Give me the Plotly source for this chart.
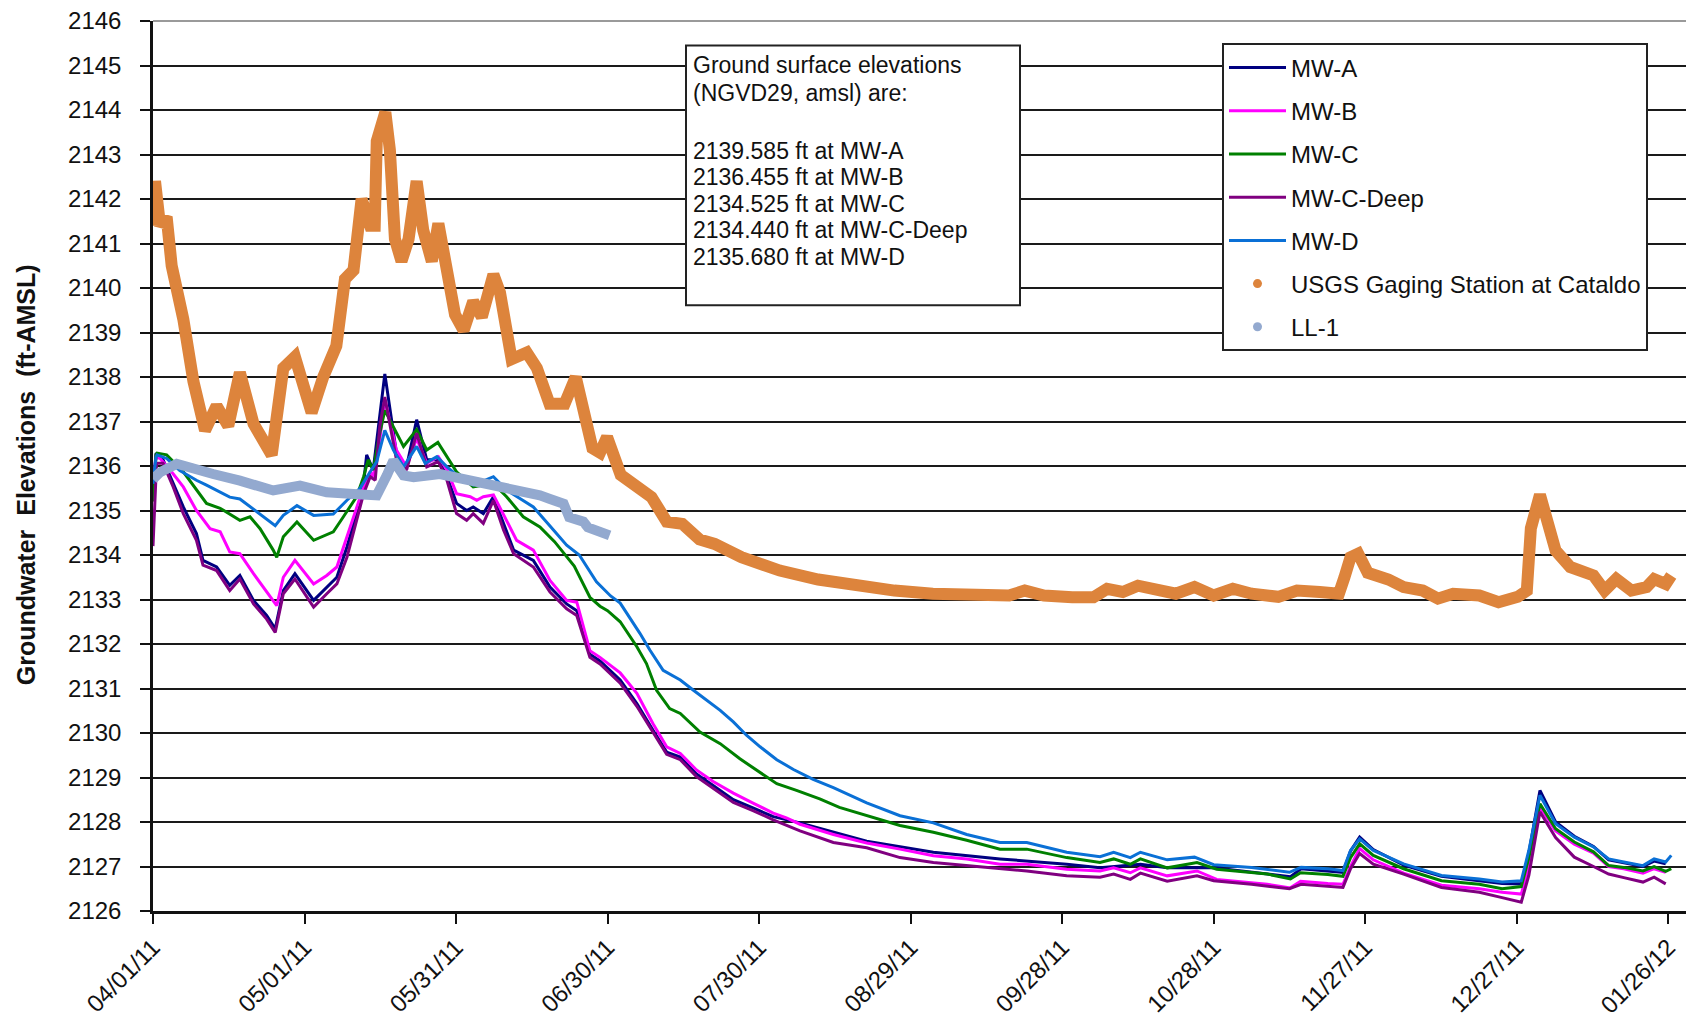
import pandas as pd
import plotly.graph_objects as go

START = "2011-04-01"

# ---------------- data (day offset from 04/01/11, elevation ft-AMSL) ----------------
mwa_days = [0, 0.6, 2.0, 3.4, 6.0, 8.6, 9.9, 12.6, 15.2, 17.2, 19.9, 22.5, 24.2, 25.8, 28.1, 31.8, 34.4, 36.4,
            38.4, 40.3, 41.7, 42.3, 43.6, 45.9, 48.2, 50.2, 52.2, 54.2, 56.5, 58.2, 60.1, 62.1, 63.4, 65.4, 67.4,
            69.4, 71.4, 75.3, 78.6, 81.9, 83.9, 86.5, 88.5, 92.5, 95.8, 99.0, 101.7, 104.4, 107.6, 110.9, 114.9,
            118.9, 122.8, 128.1, 141.3, 154.5, 167.7, 180.9, 187.5, 195.5, 200.8, 210.0, 220.6, 225.2, 227.3,
            232.6, 235.6, 237.1, 238.9, 241.6, 247.6, 255.1, 262.6, 267.1, 270.9, 272.4, 274.6, 277.7, 281.4,
            285.2, 288.2, 291.2, 295.0, 297.2, 299.5]
mwa_vals = [2135.5, 2136.29, 2136.14, 2135.76, 2135.08, 2134.48, 2133.88, 2133.73, 2133.32, 2133.54, 2132.98,
            2132.64, 2132.34, 2133.2, 2133.58, 2132.98, 2133.28, 2133.5, 2134.18, 2134.93, 2135.61, 2136.25,
            2135.91, 2138.07, 2136.29, 2135.98, 2137.04, 2136.14, 2136.14, 2135.76, 2135.16, 2135.0, 2135.08,
            2134.93, 2135.31, 2134.71, 2134.11, 2133.88, 2133.28, 2132.9, 2132.75, 2131.77, 2131.62, 2131.19,
            2130.66, 2130.06, 2129.57, 2129.46, 2129.08, 2128.82, 2128.5, 2128.31, 2128.12, 2127.98, 2127.57,
            2127.32, 2127.17, 2127.05, 2126.97, 2127.05, 2126.97, 2126.97, 2126.83, 2126.77, 2126.95, 2126.9,
            2126.87, 2127.35, 2127.66, 2127.38, 2127.03, 2126.78, 2126.68, 2126.62, 2126.61, 2127.3, 2128.71,
            2128.0, 2127.68, 2127.45, 2127.15, 2127.08, 2127.0, 2127.12, 2127.06]

mwb_days = [0, 0.6, 1.4, 3.4, 6.0, 8.6, 11.3, 13.3, 15.2, 17.2, 19.9, 22.5, 24.5, 25.8, 28.1, 31.8, 34.4, 36.4,
            38.4, 40.3, 41.7, 43.0, 43.6, 44.9, 45.9, 48.2, 50.2, 52.2, 54.2, 56.5, 58.2, 60.1, 62.8, 64.1, 65.4,
            67.4, 70.0, 72.0, 75.3, 78.6, 81.9, 83.9, 86.5, 88.5, 92.5, 95.8, 99.0, 101.7, 104.4, 107.6, 110.9,
            114.9, 118.9, 122.8, 125.4, 128.1, 134.7, 141.3, 147.9, 154.5, 161.1, 167.7, 173.0, 180.9, 187.5,
            190.2, 193.5, 195.5, 200.8, 206.7, 210.6, 220.6, 225.2, 227.2, 232.6, 235.6, 237.1, 238.9, 241.6,
            247.6, 255.1, 262.6, 267.1, 270.9, 272.4, 274.6, 277.7, 281.4, 285.2, 288.2, 291.2, 295.0, 297.2, 299.5]
mwb_vals = [2135.6, 2136.2, 2136.17, 2135.91, 2135.53, 2135.0, 2134.59, 2134.52, 2134.07, 2134.03, 2133.58,
            2133.17, 2132.86, 2133.5, 2133.88, 2133.35, 2133.54, 2133.73, 2134.41, 2135.08, 2135.53, 2135.87,
            2135.76, 2136.59, 2137.5, 2136.36, 2135.98, 2136.62, 2136.06, 2136.21, 2135.91, 2135.38, 2135.31,
            2135.23, 2135.31, 2135.35, 2134.78, 2134.33, 2134.11, 2133.43, 2132.98, 2132.94, 2131.85, 2131.7,
            2131.35, 2130.89, 2130.21, 2129.69, 2129.54, 2129.17, 2128.91, 2128.65, 2128.42, 2128.2, 2128.09,
            2127.95, 2127.72, 2127.53, 2127.39, 2127.24, 2127.17, 2127.05, 2127.05, 2126.94, 2126.9, 2126.97,
            2126.86, 2126.97, 2126.79, 2126.9, 2126.71, 2126.6, 2126.52, 2126.67, 2126.62, 2126.6, 2127.0,
            2127.4, 2127.15, 2126.85, 2126.58, 2126.5, 2126.42, 2126.38, 2127.0, 2128.34, 2127.8, 2127.5,
            2127.3, 2127.0, 2126.95, 2126.85, 2126.95, 2126.87]

mwc_days = [0, 0.6, 0.8, 2.7, 6.0, 10.6, 13.3, 17.2, 19.2, 21.2, 23.8, 24.5, 25.8, 28.5, 31.8, 35.7, 37.7, 40.3,
            41.7, 42.6, 43.6, 44.9, 45.9, 47.6, 49.6, 52.2, 54.2, 56.4, 58.2, 60.1, 63.4, 67.4, 70.0, 73.3, 76.6,
            79.5, 83.4, 86.5, 88.5, 90.0, 92.5, 95.8, 97.7, 99.7, 102.3, 104.4, 108.3, 112.3, 116.2, 120.2, 123.5,
            127.4, 132.0, 135.9, 141.3, 147.9, 154.5, 161.1, 167.7, 173.0, 180.9, 187.5, 190.2, 193.5, 195.5,
            200.8, 206.7, 210.6, 220.6, 225.2, 227.2, 232.6, 235.6, 237.1, 238.9, 241.6, 247.6, 255.1, 262.6,
            267.1, 270.9, 272.4, 274.6, 277.7, 281.4, 285.2, 288.2, 291.2, 295.0, 297.2, 299.5, 300.6]
mwc_vals = [2135.2, 2136.25, 2136.29, 2136.25, 2135.87, 2135.16, 2135.05, 2134.78, 2134.86, 2134.59, 2134.11,
            2133.95, 2134.41, 2134.74, 2134.33, 2134.52, 2134.86, 2135.31, 2135.76, 2136.14, 2135.91, 2136.74,
            2137.25, 2136.89, 2136.44, 2136.82, 2136.36, 2136.53, 2136.21, 2135.87, 2135.53, 2135.61, 2135.31,
            2134.86, 2134.63, 2134.3, 2133.75, 2133.05, 2132.85, 2132.75, 2132.5, 2131.94, 2131.56, 2130.96,
            2130.55, 2130.44, 2130.02, 2129.76, 2129.42, 2129.12, 2128.86, 2128.71, 2128.52, 2128.33, 2128.14,
            2127.92, 2127.77, 2127.59, 2127.39, 2127.39, 2127.2, 2127.09, 2127.17, 2127.05, 2127.17, 2126.97,
            2127.09, 2126.94, 2126.83, 2126.72, 2126.86, 2126.82, 2126.78, 2127.2, 2127.51, 2127.25, 2126.95,
            2126.68, 2126.6, 2126.5, 2126.55, 2127.2, 2128.41, 2127.85, 2127.55, 2127.33, 2127.02, 2126.98,
            2126.9, 2127.0, 2126.89, 2126.95]

mwcd_days = [0, 0.7, 2.0, 4.0, 6.0, 8.6, 9.9, 12.6, 15.2, 17.2, 19.9, 22.5, 24.2, 25.8, 28.1, 31.8, 34.4, 36.4,
             38.4, 40.3, 41.7, 43.0, 44.0, 44.9, 45.9, 48.2, 50.2, 52.2, 54.2, 56.5, 58.2, 60.1, 62.1, 63.4, 65.4,
             67.4, 69.4, 71.4, 75.3, 78.6, 81.9, 83.9, 86.5, 88.5, 92.5, 95.8, 99.0, 101.7, 104.4, 107.6, 110.9,
             114.9, 118.9, 122.8, 128.1, 134.7, 141.3, 147.9, 154.5, 161.1, 167.7, 173.0, 180.9, 187.5, 190.2,
             193.5, 195.5, 200.8, 206.7, 210.0, 217.5, 225.0, 227.3, 232.6, 235.6, 237.1, 238.9, 241.6, 247.6,
             255.1, 262.6, 267.1, 270.9, 272.4, 274.6, 277.7, 281.4, 285.2, 288.2, 291.2, 295.0, 297.2, 299.5]
mwcd_vals = [2134.2, 2136.06, 2136.06, 2135.53, 2134.93, 2134.33, 2133.77, 2133.65, 2133.2, 2133.46, 2132.9,
             2132.56, 2132.26, 2133.13, 2133.46, 2132.83, 2133.13, 2133.35, 2133.95, 2134.78, 2135.38, 2135.76,
             2135.68, 2136.89, 2137.55, 2136.14, 2135.91, 2136.74, 2135.98, 2136.1, 2135.68, 2134.93, 2134.78,
             2134.93, 2134.71, 2135.23, 2134.56, 2134.03, 2133.73, 2133.17, 2132.79, 2132.64, 2131.7, 2131.55,
             2131.12, 2130.6, 2130.0, 2129.52, 2129.4, 2129.02, 2128.76, 2128.44, 2128.25, 2128.05, 2127.8,
             2127.54, 2127.42, 2127.2, 2127.09, 2127.02, 2126.94, 2126.9, 2126.79, 2126.76, 2126.83, 2126.71,
             2126.85, 2126.67, 2126.79, 2126.68, 2126.6, 2126.5, 2126.6, 2126.55, 2126.53, 2126.95, 2127.29,
             2127.05, 2126.83, 2126.53, 2126.42, 2126.3, 2126.2, 2126.8, 2128.23, 2127.65, 2127.21, 2127.0,
             2126.83, 2126.75, 2126.65, 2126.76, 2126.61]

mwd_days = [0, 0.6, 0.8, 2.7, 5.3, 8.6, 10.6, 15.2, 17.2, 21.2, 24.2, 25.8, 28.5, 31.8, 35.7, 38.4, 41.0, 43.0,
            44.3, 45.9, 47.6, 49.6, 52.2, 53.9, 56.2, 58.2, 60.1, 63.4, 67.4, 70.0, 75.3, 78.6, 81.9, 84.4, 87.8,
            90.6, 92.5, 96.4, 98.4, 101.0, 104.4, 107.0, 109.6, 112.3, 114.9, 117.5, 120.2, 123.5, 126.8, 130.7,
            134.7, 141.3, 147.9, 154.5, 161.1, 167.7, 173.0, 180.9, 187.5, 190.2, 193.5, 195.5, 200.8, 206.2,
            210.0, 217.5, 225.0, 227.3, 232.6, 235.6, 237.1, 238.9, 241.6, 247.6, 255.1, 262.6, 267.1, 270.9,
            272.4, 274.6, 277.7, 281.4, 285.2, 288.2, 291.2, 295.0, 297.2, 299.5, 300.6]
mwd_vals = [2135.6, 2136.2, 2136.25, 2136.17, 2135.9, 2135.68, 2135.57, 2135.3, 2135.26, 2134.92, 2134.66,
            2134.89, 2135.11, 2134.89, 2134.92, 2135.23, 2135.5, 2135.87, 2136.1, 2136.8, 2136.36, 2135.98,
            2136.44, 2136.06, 2136.21, 2135.98, 2135.8, 2135.57, 2135.76, 2135.46, 2135.08, 2134.65, 2134.22,
            2134.0, 2133.4, 2133.08, 2132.92, 2132.24, 2131.86, 2131.41, 2131.19, 2130.96, 2130.74, 2130.51,
            2130.25, 2129.95, 2129.69, 2129.4, 2129.18, 2128.96, 2128.77, 2128.43, 2128.14, 2127.98, 2127.72,
            2127.54, 2127.54, 2127.32, 2127.22, 2127.32, 2127.2, 2127.32, 2127.15, 2127.21, 2127.04, 2126.98,
            2126.87, 2126.98, 2126.95, 2126.91, 2127.36, 2127.62, 2127.36, 2127.06, 2126.8, 2126.72, 2126.65,
            2126.68, 2127.36, 2128.6, 2127.96, 2127.66, 2127.44, 2127.17, 2127.1, 2127.02, 2127.17, 2127.1,
            2127.25]

usgs_days = [0.0, 0.4, 1.4, 2.7, 3.7, 6.0, 8.0, 10.3, 12.6, 14.9, 17.2, 19.9, 23.5, 25.8, 28.1, 31.4, 33.7, 36.3,
             38.0, 39.7, 41.3, 43.0, 43.9, 44.3, 46.0, 46.9, 47.9, 49.2, 50.6, 52.2, 53.5, 55.2, 56.5, 58.2, 59.8,
             61.5, 63.4, 65.1, 67.4, 68.7, 71.0, 74.0, 76.0, 78.5, 81.5, 83.7, 85.5, 87.0, 88.5, 89.9, 92.6, 95.3,
             98.7, 101.7, 104.8, 108.2, 111.2, 116.5, 124.1, 131.7, 139.2, 146.8, 154.4, 162.0, 169.5, 172.6,
             176.4, 182.0, 186.2, 188.9, 192.0, 195.0, 198.7, 202.5, 206.2, 210.0, 213.8, 217.5, 222.8, 226.5,
             231.0, 234.8, 235.9, 237.1, 238.6, 240.5, 244.6, 247.6, 251.4, 254.4, 257.4, 262.6, 266.4, 270.2,
             272.0, 272.8, 274.6, 276.2, 277.7, 280.6, 285.2, 287.4, 289.7, 292.7, 295.7, 297.2, 299.5, 300.6]
usgs_vals = [2141.4, 2142.4, 2141.4, 2141.6, 2140.5, 2139.3, 2137.9, 2136.8, 2137.35, 2136.9, 2138.1, 2136.95,
             2136.25, 2138.2, 2138.45, 2137.2, 2138.0, 2138.7, 2140.2, 2140.4, 2142.0, 2141.4, 2141.4, 2143.3,
             2143.95, 2143.1, 2141.1, 2140.6, 2141.1, 2142.4, 2141.3, 2140.6, 2141.45, 2140.4, 2139.4, 2139.05,
             2139.7, 2139.35, 2140.3, 2139.9, 2138.4, 2138.55, 2138.2, 2137.4, 2137.4, 2138.0, 2137.25, 2136.4,
             2136.3, 2136.65, 2135.8, 2135.6, 2135.3, 2134.75, 2134.7, 2134.35, 2134.25, 2133.95, 2133.65,
             2133.45, 2133.3, 2133.2, 2133.13, 2133.09, 2133.09, 2133.2, 2133.09, 2133.05, 2133.05, 2133.24,
             2133.17, 2133.31, 2133.24, 2133.13, 2133.28, 2133.09, 2133.24, 2133.13, 2133.06, 2133.2, 2133.17,
             2133.13, 2133.5, 2133.95, 2134.03, 2133.6, 2133.45, 2133.28, 2133.2, 2133.02, 2133.13, 2133.09,
             2132.94, 2133.06, 2133.2, 2134.6, 2135.35, 2134.6, 2134.1, 2133.73, 2133.54, 2133.2, 2133.46,
             2133.2, 2133.28, 2133.46, 2133.35, 2133.54]

ll1_days = [0, 1.4, 4.7, 8.0, 11.9, 17.2, 23.8, 29.1, 34.4, 39.7, 44.3, 46.3, 47.6, 49.6, 51.6, 56.8, 63.4, 70.0,
            76.6, 78.6, 81.3, 82.4, 85.2, 86.1, 89.8, 90.4]
ll1_vals = [2135.7, 2135.86, 2136.05, 2135.97, 2135.82, 2135.67, 2135.45, 2135.56, 2135.41, 2135.37, 2135.34,
            2135.79, 2136.12, 2135.79, 2135.75, 2135.82, 2135.67, 2135.49, 2135.34, 2135.26, 2135.15, 2134.85,
            2134.75, 2134.62, 2134.48, 2134.44]

tick_dates = ["2011-04-01", "2011-05-01", "2011-05-31", "2011-06-30", "2011-07-30", "2011-08-29",
              "2011-09-28", "2011-10-28", "2011-11-27", "2011-12-27", "2012-01-26"]
tick_labels = ["04/01/11", "05/01/11", "05/31/11", "06/30/11", "07/30/11", "08/29/11",
               "09/28/11", "10/28/11", "11/27/11", "12/27/11", "01/26/12"]

note_lines = ["Ground surface elevations", "(NGVD29, amsl) are:", "",
              "2139.585 ft at MW-A", "2136.455 ft at MW-B", "2134.525 ft at MW-C",
              "2134.440 ft at MW-C-Deep", "2135.680 ft at MW-D"]

# ---------------- figure ----------------
start = pd.Timestamp(START)


def to_dates(days):
    return start + pd.to_timedelta(days, unit="D")


FONT = "Arial, 'Liberation Sans', sans-serif"
fig = go.Figure()

line_series = [
    ("MW-A", mwa_days, mwa_vals, "#000080"),
    ("MW-B", mwb_days, mwb_vals, "#FF00FF"),
    ("MW-C", mwc_days, mwc_vals, "#008000"),
    ("MW-C-Deep", mwcd_days, mwcd_vals, "#800080"),
    ("MW-D", mwd_days, mwd_vals, "#0A70D6"),
]
for name, d, v, c in line_series:
    fig.add_trace(go.Scatter(x=to_dates(d), y=v, mode="lines", name=name, legendgroup=name,
                             line=dict(color=c, width=3)))

band_series = [
    ("USGS Gaging Station at Cataldo", usgs_days, usgs_vals, "#DD843C", 12),
    ("LL-1", ll1_days, ll1_vals, "#93A9CF", 10),
]
for name, d, v, c, w in band_series:
    fig.add_trace(go.Scatter(x=to_dates(d), y=v, mode="lines", name=name, legendgroup=name,
                             showlegend=False, line=dict(color=c, width=w)))
    fig.add_trace(go.Scatter(x=[None], y=[None], mode="markers", name=name, legendgroup=name,
                             marker=dict(color=c, size=9)))

# the page body has an 8px margin: the figure is offset by (8, 8) in the window
OFF = 8
W, H = 1694 - OFF, 1021 - OFF
L, R, T, B = 153 - OFF, 0, 20.5 - OFF, 1021 - OFF - (911 - OFF)
pw, ph = W - L - R, H - T - B


def px_x(x):  # window pixel -> paper
    return (x - OFF - L) / pw


def px_y(y):  # window pixel -> paper
    return (H - B - (y - OFF)) / ph


x_end = start + pd.Timedelta(days=305.1)

fig.update_layout(
    width=W, height=H,
    margin=dict(l=L, r=R, t=T, b=B, autoexpand=False),
    paper_bgcolor="white", plot_bgcolor="white",
    font=dict(family=FONT, size=24, color="#111111"),
    showlegend=True,
    legend=dict(x=px_x(1222), y=px_y(43), xanchor="left", yanchor="top",
                bgcolor="white", bordercolor="#222222", borderwidth=2,
                font=dict(family=FONT, size=24, color="#111111"),
                tracegroupgap=9, itemwidth=57, traceorder="grouped"),
    xaxis=dict(type="date", range=[start, x_end], tickmode="array",
               tickvals=tick_dates, ticktext=tick_labels, tickangle=-45,
               showgrid=False, zeroline=False,
               showline=True, linecolor="#111111", linewidth=2.5,
               ticks="outside", ticklen=10, tickwidth=1.5, tickcolor="#111111",
               tickfont=dict(family=FONT, size=24, color="#111111")),
    yaxis=dict(range=[2126, 2146], dtick=1, tick0=2126,
               showgrid=True, gridcolor="#1a1a1a", gridwidth=2, zeroline=False,
               showline=True, linecolor="#111111", linewidth=2.5,
               ticks="outside", ticklen=10, tickwidth=1.5, tickcolor="#111111",
               ticklabelstandoff=14, ticklabeloverflow="allow",
               tickfont=dict(family=FONT, size=24, color="#111111")),
)

# plot area top border
fig.add_shape(type="line", xref="paper", yref="paper", x0=0, x1=1, y0=1, y1=1,
              line=dict(color="#9a9a9a", width=2), layer="above")

# y-axis title
fig.add_annotation(text="<b>Groundwater  Elevations  (ft-AMSL)</b>", xref="paper", yref="paper",
                   x=px_x(26), y=px_y(475), xanchor="center", yanchor="middle", textangle=-90,
                   showarrow=False, font=dict(family=FONT, size=25, color="#111111"))

# note box
fig.add_shape(type="rect", xref="paper", yref="paper",
              x0=px_x(686), x1=px_x(1020), y0=px_y(305), y1=px_y(45),
              line=dict(color="#222222", width=2), fillcolor="white", layer="above")
y_line = [65, 93, 122, 151, 177, 203.5, 230, 256.5]
for txt, yy in zip(note_lines, y_line):
    if txt:
        fig.add_annotation(text=txt, xref="paper", yref="paper", x=px_x(691), y=px_y(yy),
                           xanchor="left", yanchor="middle", showarrow=False,
                           font=dict(family=FONT, size=23, color="#111111"))

fig.write_html("out.html")
